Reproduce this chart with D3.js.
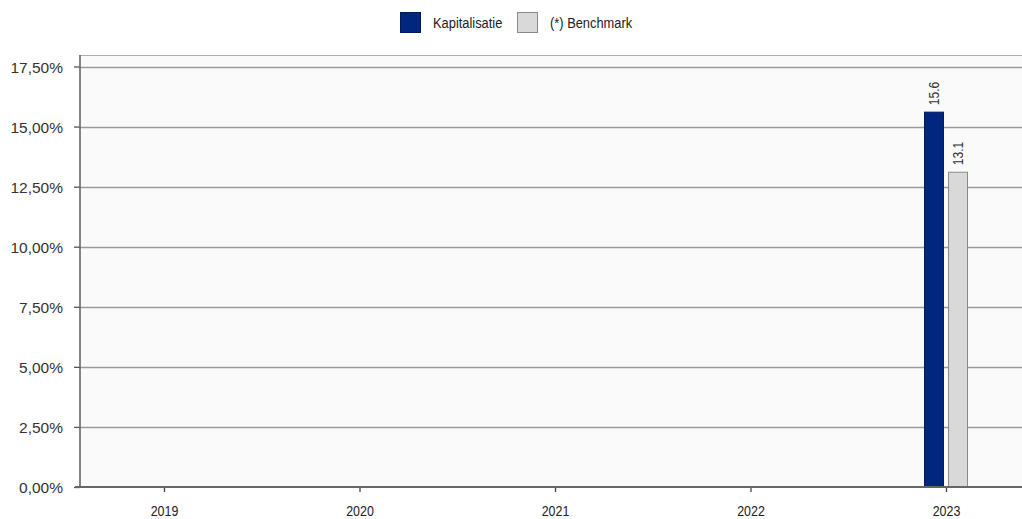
<!DOCTYPE html>
<html>
<head>
<meta charset="utf-8">
<script src="https://cdn.jsdelivr.net/npm/d3@7"></script>
<style>
  html, body { margin: 0; padding: 0; background: #ffffff; }
  svg { display: block; }
  text { font-family: "Liberation Sans", Arial, sans-serif; }
</style>
</head>
<body>
<svg id="chart" width="1022" height="519"></svg>
<script>
// Yearly returns (%) per series
const years = ["2019", "2020", "2021", "2022", "2023"];
const seriesNames = ["Kapitalisatie", "(*) Benchmark"];
const kapitalisatie = [0, 0, 0, 0, 15.6];
const benchmark = [0, 0, 0, 0, 13.1];
const yTicks = [0, 2.5, 5, 7.5, 10, 12.5, 15, 17.5];

const colors = { "Kapitalisatie": "#00267f", "(*) Benchmark": "#d9d9d9" };
const strokes = { "Kapitalisatie": "#001a5c", "(*) Benchmark": "#8a8a8a" };
const SQUEEZE = 0.83; // condensed look for category, legend and value labels

const svg = d3.select("#chart");
const plot = { left: 80, right: 1022, top: 55, bottom: 487 };

const nl = d3.formatLocale({ decimal: ",", thousands: ".", grouping: [3], currency: ["€", ""] });
const fmtPct = v => nl.format(".2f")(v) + "%";

const y = d3.scaleLinear().domain([0, 17.5]).range([plot.bottom, 66.5]);
const x = d3.scalePoint().domain(years).range([164, 946]);
const xSub = d3.scaleBand().domain(seriesNames).range([-21.5, 21.5]).paddingInner(0.21);

// plot background
svg.append("rect")
  .attr("x", plot.left).attr("y", plot.top)
  .attr("width", plot.right - plot.left).attr("height", plot.bottom - plot.top)
  .attr("fill", "#fafafa");

// top border
svg.append("line")
  .attr("x1", plot.left).attr("x2", plot.right)
  .attr("y1", plot.top + 0.5).attr("y2", plot.top + 0.5)
  .attr("stroke", "#b0b0b0").attr("stroke-width", 1.2);

// horizontal gridlines
svg.append("g").selectAll("line")
  .data(yTicks.filter(d => d > 0))
  .join("line")
  .attr("x1", plot.left).attr("x2", plot.right)
  .attr("y1", d => Math.round(y(d)) + 0.5).attr("y2", d => Math.round(y(d)) + 0.5)
  .attr("stroke", "#9a9a9a").attr("stroke-width", 1.3);

// y axis
const yAxis = d3.axisLeft(y).tickValues(yTicks).tickFormat(fmtPct).tickSize(6).tickPadding(11);
const gy = svg.append("g").attr("transform", `translate(${plot.left},0)`).call(yAxis);
gy.select(".domain").remove();
gy.selectAll(".tick line").attr("stroke", "#555").attr("stroke-width", 1.3);
gy.selectAll(".tick text")
  .attr("font-family", "Liberation Sans, Arial, sans-serif")
  .attr("font-size", 15.5).attr("fill", "#333").attr("dy", "0.36em");

// left axis line
svg.append("line")
  .attr("x1", plot.left).attr("x2", plot.left)
  .attr("y1", plot.top).attr("y2", plot.bottom)
  .attr("stroke", "#666").attr("stroke-width", 1.6);

// bars
const rows = years.map((yr, i) => ({ year: yr, values: [
  { name: seriesNames[0], value: kapitalisatie[i] },
  { name: seriesNames[1], value: benchmark[i] }
]}));

const groups = svg.append("g").selectAll("g")
  .data(rows).join("g")
  .attr("transform", d => `translate(${x(d.year)},0)`);

groups.selectAll("rect")
  .data(d => d.values).join("rect")
  .attr("x", d => xSub(d.name))
  .attr("width", xSub.bandwidth())
  .attr("y", d => y(d.value))
  .attr("height", d => y(0) - y(d.value))
  .attr("fill", d => colors[d.name])
  .attr("stroke", d => strokes[d.name])
  .attr("stroke-width", 1);

// value labels, rotated above bars
groups.selectAll("text.val")
  .data(d => d.values.filter(v => v.value !== 0)).join("text")
  .attr("class", "val")
  .attr("transform", d => `translate(${xSub(d.name) + xSub.bandwidth() / 2 + 5},${y(d.value) - 7}) rotate(-90) scale(${SQUEEZE},1)`)
  .attr("font-size", 14.5).attr("fill", "#333")
  .text(d => d.value.toFixed(1));

// x axis
const xAxis = d3.axisBottom(x).tickSize(5);
const gx = svg.append("g").attr("transform", `translate(0,${plot.bottom})`).call(xAxis);
gx.select(".domain").remove();
gx.selectAll(".tick line").attr("stroke", "#444").attr("stroke-width", 1.3);
gx.selectAll(".tick text")
  .attr("y", 0).attr("dy", 0)
  .attr("transform", `translate(0,28.5) scale(${SQUEEZE},1)`)
  .attr("font-size", 15).attr("fill", "#222");

svg.append("line")
  .attr("x1", 75).attr("x2", plot.right)
  .attr("y1", plot.bottom).attr("y2", plot.bottom)
  .attr("stroke", "#666").attr("stroke-width", 2);

// legend
const legend = svg.append("g");
const legendItems = [
  { name: seriesNames[0], x: 400 },
  { name: seriesNames[1], x: 517 }
];
legend.selectAll("rect").data(legendItems).join("rect")
  .attr("x", d => d.x + 0.5).attr("y", 12.5)
  .attr("width", 20).attr("height", 20)
  .attr("fill", d => colors[d.name])
  .attr("stroke", d => strokes[d.name]).attr("stroke-width", 1);
legend.selectAll("text").data(legendItems).join("text")
  .attr("transform", d => `translate(${d.x + 33},28) scale(${SQUEEZE},1)`)
  .attr("font-size", 15.5).attr("fill", "#222")
  .text(d => d.name);
</script>
</body>
</html>
